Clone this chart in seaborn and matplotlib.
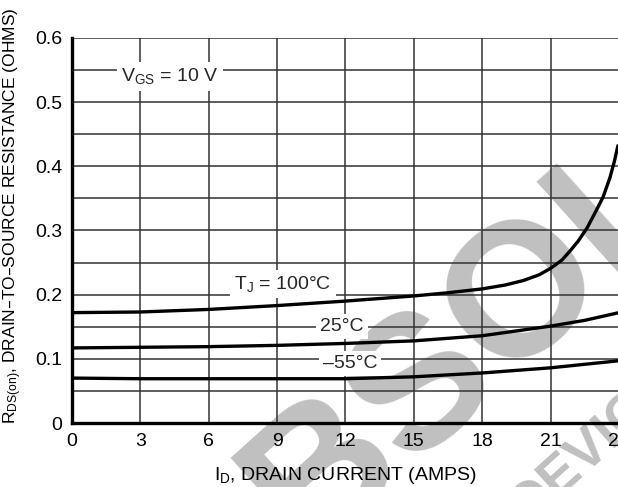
import seaborn as sns
import matplotlib.pyplot as plt

# drain current (A) and on-resistance (ohms)
id_100 = [0, 3, 6, 9, 12, 15, 16.5, 18, 19, 19.8, 20.5, 21, 21.5, 21.85,
          22.2, 22.6, 23.0, 23.3, 23.6, 23.8, 23.95]
rds_100 = [0.172, 0.173, 0.177, 0.183, 0.190, 0.198, 0.203, 0.209, 0.215, 0.222,
           0.231, 0.241, 0.254, 0.268, 0.283, 0.304, 0.331, 0.352, 0.382, 0.408, 0.432]

id_25 = [0, 3, 6, 9, 12, 15, 18, 21, 22.5, 24]
rds_25 = [0.117, 0.118, 0.119, 0.121, 0.124, 0.128, 0.136, 0.151, 0.160, 0.172]

id_m55 = [0, 3, 6, 9, 12, 15, 18, 21, 24]
rds_m55 = [0.070, 0.069, 0.069, 0.069, 0.069, 0.072, 0.078, 0.086, 0.097]

xticks = [0, 3, 6, 9, 12, 15, 18, 21, 24]
yticks = [0, 0.1, 0.2, 0.3, 0.4, 0.5, 0.6]
ytick_labels = ["0", "0.1", "0.2", "0.3", "0.4", "0.5", "0.6"]

sns.set_style("white")
plt.rcParams['font.family'] = ['Liberation Sans Narrow', 'DejaVu Sans Condensed',
                               'Liberation Sans', 'DejaVu Sans']
plt.rcParams['mathtext.default'] = 'regular'

fig = plt.figure(figsize=(6.18, 4.87), dpi=100)
ax = fig.add_axes([0.1165, 0.1314, 0.8851, 0.7906])
ax.patch.set_alpha(0)

# faint watermark behind the chart
fig.text(0.895, 0.445, "OBSOLETE", family="Liberation Sans", weight="bold",
         fontsize=137, color="#c0c0c0", rotation=42, rotation_mode="anchor",
         ha="center", va="center", zorder=-5)
fig.text(0.962, 0.085, "DEVICE", family="Liberation Sans", weight="bold",
         fontsize=40, color="#c0c0c0", rotation=42, rotation_mode="anchor",
         ha="center", va="center", zorder=-5)

for xs, ys in [(id_100, rds_100), (id_25, rds_25), (id_m55, rds_m55)]:
    sns.lineplot(x=xs, y=ys, ax=ax, color="black", linewidth=2.4, zorder=5)

ax.set_xlim(0, 24)
ax.set_ylim(0, 0.6)
ax.set_xticks(xticks)
ax.set_xticklabels([str(v) for v in xticks])
ax.set_yticks(yticks)
ax.set_yticklabels(ytick_labels)
ax.set_yticks([0.05, 0.15, 0.25, 0.35, 0.45, 0.55], minor=True)
ax.tick_params(which="both", length=0, labelsize=14, pad=7, labelcolor="black")
ax.grid(True, which="both", color="#333333", linewidth=1.1)
ax.set_axisbelow(True)

for side in ["top", "right"]:
    ax.spines[side].set_visible(False)
for side in ["left", "bottom"]:
    ax.spines[side].set_linewidth(2.4)
    ax.spines[side].set_color("black")

box = dict(facecolor="white", edgecolor="none", pad=3)
ax.text(4.3, 0.54, r"V$_{GS}$ = 10 V", fontsize=14, ha="center", va="center", bbox=box, zorder=6)
ax.text(9.25, 0.216, r"T$_{J}$ = 100°C", fontsize=14, ha="center", va="center", bbox=box, zorder=6)
ax.text(11.85, 0.151, "25°C", fontsize=14, ha="center", va="center", bbox=box, zorder=6)
ax.text(12.2, 0.093, "–55°C", fontsize=14, ha="center", va="center", bbox=box, zorder=6)

ax.set_xlabel(r"I$_{D}$, DRAIN CURRENT (AMPS)", fontsize=14, color="black")
ax.xaxis.set_label_coords(0.5, -0.108)
ax.set_ylabel(r"R$_{DS(on)}$, DRAIN–TO–SOURCE RESISTANCE (OHMS)", fontsize=12.5, color="black")
ax.yaxis.set_label_coords(-0.088, 0.538)

fig.savefig("out.png", dpi=100)
